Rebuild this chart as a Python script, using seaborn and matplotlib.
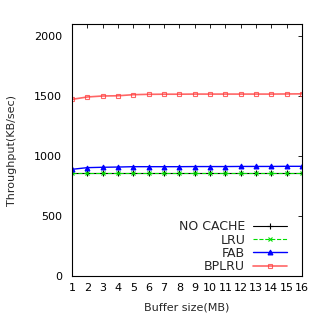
import matplotlib
matplotlib.use("Agg")
import matplotlib.pyplot as plt
import seaborn as sns
import pandas as pd

buffer_mb = list(range(1, 17))
no_cache = [855] * 16
lru = [856] * 16
fab = [889, 903, 906, 908, 911, 911, 911, 911, 912, 912, 912, 913, 913, 913, 914, 914]
bplru = [1472, 1492, 1500, 1502, 1511, 1514, 1515, 1515, 1516, 1516, 1516, 1516, 1516, 1516, 1517, 1518]

sns.set_theme(style="white")
plt.rcParams['font.family'] = ['DejaVu Sans']

df = pd.DataFrame({
    "x": buffer_mb * 4,
    "y": no_cache + lru + fab + bplru,
    "series": ["NO CACHE"] * 16 + ["LRU"] * 16 + ["FAB"] * 16 + ["BPLRU"] * 16,
})

fig = plt.figure(figsize=(3.23, 3.23), dpi=100)
ax = fig.add_axes([72/323, 47/323, 230/323, 252/323])

styles = {
    "NO CACHE": dict(color="black", marker="+", ls="-", ms=4, lw=0.8, alpha=1.0, mfc="black"),
    "LRU": dict(color="#00dd00", marker="x", ls="--", ms=3.5, lw=0.8, alpha=1.0, mfc="#00dd00"),
    "FAB": dict(color="#0000ff", marker="^", ls="-", ms=3.5, lw=1.0, alpha=1.0, mfc="#0000ff"),
    "BPLRU": dict(color="#ff4040", marker="s", ls="-", ms=3.5, lw=1.2, alpha=0.8, mfc="none"),
}
for name in ["NO CACHE", "LRU", "FAB", "BPLRU"]:
    sub = df[df.series == name]
    st = styles[name]
    sns.lineplot(data=sub, x="x", y="y", ax=ax, color=st["color"], marker=st["marker"],
                 linestyle=st["ls"], markersize=st["ms"], linewidth=st["lw"], alpha=st["alpha"],
                 markerfacecolor=st["mfc"], markeredgecolor=st["color"], markeredgewidth=0.8,
                 label=name)

ax.set_xlim(1, 16)
ax.set_ylim(0, 2100)
ax.set_xticks(buffer_mb)
ax.set_yticks([0, 500, 1000, 1500, 2000])
ax.tick_params(direction="in", top=True, right=True, length=3, width=0.6, labelsize=8, colors="black")
ax.tick_params(axis="y", pad=7)
ax.tick_params(axis="x", pad=5)
for sp in ax.spines.values():
    sp.set_color("black")
    sp.set_linewidth(0.8)
ax.set_xlabel("Buffer size(MB)", fontsize=8, labelpad=7)
ax.set_ylabel("Throughput(KB/sec)", fontsize=8, labelpad=12)
leg = ax.legend(loc="lower right", bbox_to_anchor=(287/323, 50/323), bbox_transform=fig.transFigure,
                markerfirst=False, frameon=False, fontsize=9,
                handlelength=2.7, handletextpad=0.65, labelspacing=0.02, borderaxespad=0, borderpad=0)
fig.savefig("out.png", dpi=100)
